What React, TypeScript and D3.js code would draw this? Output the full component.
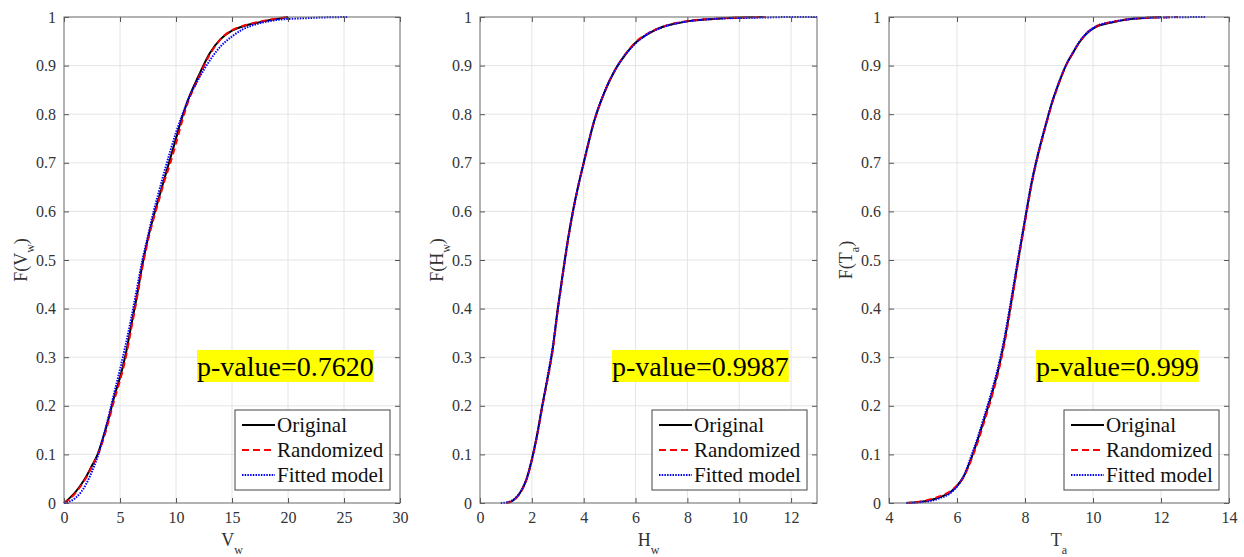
import React, { useEffect, useRef } from 'react';
import * as d3 from 'd3';

// ---------- shared ticks ----------
const yTicks = [0, 0.1, 0.2, 0.3, 0.4, 0.5, 0.6, 0.7, 0.8, 0.9, 1];
const vwTicks = [0, 5, 10, 15, 20, 25, 30];
const hwTicks = [0, 2, 4, 6, 8, 10, 12];
const taTicks = [4, 6, 8, 10, 12, 14];
const legendLabels = ['Original', 'Randomized', 'Fitted model'];

// ---------- panel 1 : V_w ----------
const vwX = [0, 0.5, 1, 1.5, 2, 2.5, 3, 3.5, 4, 4.5, 5, 5.5, 6, 6.5, 7, 7.5, 8, 8.5, 9, 9.5, 10, 10.5, 11, 12, 13, 14, 15, 16, 17, 18, 19, 20, 21, 22, 23, 24, 25.3];
const vwOriginal = [0, 0.01, 0.022, 0.037, 0.055, 0.077, 0.1, 0.135, 0.175, 0.22, 0.258, 0.305, 0.365, 0.425, 0.49, 0.545, 0.59, 0.63, 0.67, 0.71, 0.75, 0.79, 0.825, 0.878, 0.925, 0.955, 0.972, 0.981, 0.987, 0.992, 0.996, 1, null, null, null, null, null];
const vwRandomized = [0, 0.008, 0.02, 0.035, 0.053, 0.075, 0.098, 0.13, 0.17, 0.213, 0.252, 0.298, 0.358, 0.42, 0.485, 0.54, 0.585, 0.625, 0.665, 0.7, 0.74, 0.782, 0.82, 0.874, 0.922, 0.955, 0.973, 0.982, 0.988, 0.993, 0.997, 1, null, null, null, null, null];
const vwFitted = [0, 0.003, 0.01, 0.022, 0.04, 0.065, 0.095, 0.135, 0.18, 0.228, 0.275, 0.325, 0.38, 0.44, 0.5, 0.55, 0.6, 0.643, 0.685, 0.725, 0.762, 0.795, 0.825, 0.872, 0.91, 0.94, 0.96, 0.975, 0.984, 0.99, 0.994, 0.996, 0.997, 0.998, 0.999, 0.9995, 1];

// ---------- panel 2 : H_w ----------
const hwX = [0.8, 1.0, 1.2, 1.4, 1.6, 1.8, 2.0, 2.2, 2.4, 2.6, 2.8, 3.0, 3.2, 3.4, 3.6, 3.8, 4.0, 4.4, 4.8, 5.2, 5.6, 6.0, 6.5, 7, 7.5, 8, 9, 10, 11, 12, 13];
const hwOriginal = [null, 0, 0.003, 0.011, 0.026, 0.05, 0.09, 0.14, 0.2, 0.255, 0.315, 0.4, 0.475, 0.545, 0.605, 0.655, 0.7, 0.785, 0.845, 0.89, 0.922, 0.947, 0.966, 0.979, 0.986, 0.991, 0.996, 0.999, 1, null, null];
const hwRandomized = [null, 0, 0.003, 0.01, 0.025, 0.049, 0.088, 0.138, 0.197, 0.252, 0.312, 0.396, 0.472, 0.542, 0.603, 0.654, 0.699, 0.784, 0.845, 0.89, 0.923, 0.948, 0.967, 0.979, 0.987, 0.992, 0.996, 0.999, 1, null, null];
const hwFitted = [0, 0.001, 0.004, 0.012, 0.026, 0.05, 0.088, 0.138, 0.198, 0.258, 0.32, 0.398, 0.472, 0.543, 0.603, 0.655, 0.7, 0.786, 0.846, 0.89, 0.922, 0.946, 0.966, 0.978, 0.986, 0.991, 0.996, 0.998, 0.999, 1, 1];

// ---------- panel 3 : T_a ----------
const taX = [4.5, 5.0, 5.5, 5.8, 6.0, 6.2, 6.4, 6.6, 6.8, 7.0, 7.2, 7.4, 7.6, 7.8, 8.0, 8.2, 8.4, 8.6, 8.8, 9.0, 9.2, 9.4, 9.6, 9.8, 10.0, 10.2, 10.5, 11, 11.5, 12, 12.5, 13.3];
const taOriginal = [0, 0.003, 0.012, 0.022, 0.035, 0.055, 0.088, 0.128, 0.172, 0.218, 0.27, 0.335, 0.415, 0.5, 0.582, 0.66, 0.722, 0.775, 0.825, 0.865, 0.9, 0.925, 0.948, 0.965, 0.976, 0.983, 0.988, 0.995, 0.998, 1, null, null];
const taRandomized = [0, 0.004, 0.014, 0.024, 0.036, 0.054, 0.085, 0.123, 0.167, 0.213, 0.265, 0.33, 0.41, 0.497, 0.578, 0.657, 0.72, 0.773, 0.823, 0.864, 0.899, 0.925, 0.948, 0.966, 0.977, 0.984, 0.989, 0.995, 0.998, 0.999, 1, null];
const taFitted = [0, 0.002, 0.01, 0.02, 0.034, 0.056, 0.093, 0.133, 0.178, 0.225, 0.277, 0.342, 0.422, 0.505, 0.585, 0.663, 0.724, 0.777, 0.826, 0.866, 0.9, 0.926, 0.949, 0.966, 0.977, 0.984, 0.989, 0.995, 0.998, 0.999, 0.9995, 1];

const pValues = ['p-value=0.7620', 'p-value=0.9987', 'p-value=0.999'];

type Panel = {
  left: number; right: number; domain: [number, number]; ticks: number[];
  xs: number[]; series: (number | null)[][];
  main: string; sub: string; pText: string; pX: number;
};

const panels: Panel[] = [
  { left: 64, right: 400, domain: [0, 30], ticks: vwTicks, xs: vwX, series: [vwOriginal, vwRandomized, vwFitted], main: 'V', sub: 'w', pText: pValues[0], pX: 197 },
  { left: 480, right: 817, domain: [0, 13], ticks: hwTicks, xs: hwX, series: [hwOriginal, hwRandomized, hwFitted], main: 'H', sub: 'w', pText: pValues[1], pX: 612 },
  { left: 889, right: 1229, domain: [4, 14], ticks: taTicks, xs: taX, series: [taOriginal, taRandomized, taFitted], main: 'T', sub: 'a', pText: pValues[2], pX: 1036 },
];

const TOP = 17;
const BOTTOM = 503;
const FONT = "'Liberation Serif', 'Times New Roman', serif";
const styles = [
  { color: '#000000', dash: null as string | null, width: 2 },
  { color: '#ff0000', dash: '6,4', width: 2 },
  { color: '#0000ff', dash: '1.5,1.2', width: 2 },
];

function drawPanel(svg: d3.Selection<SVGSVGElement, unknown, null, undefined>, p: Panel) {
  const x = d3.scaleLinear().domain(p.domain).range([p.left, p.right]);
  const y = d3.scaleLinear().domain([0, 1]).range([BOTTOM, TOP]);
  const g = svg.append('g');

  // grid
  g.append('g').selectAll('line').data(p.ticks.filter(t => t > p.domain[0] && t < p.domain[1])).enter().append('line')
    .attr('x1', d => x(d)).attr('x2', d => x(d)).attr('y1', TOP).attr('y2', BOTTOM)
    .attr('stroke', '#e4e4e4').attr('stroke-width', 1);
  g.append('g').selectAll('line').data(yTicks.filter(t => t > 0 && t < 1)).enter().append('line')
    .attr('y1', d => y(d)).attr('y2', d => y(d)).attr('x1', p.left).attr('x2', p.right)
    .attr('stroke', '#e4e4e4').attr('stroke-width', 1);

  // axes ticks
  const fmt = (d: d3.NumberValue) => String(d);
  const axB = g.append('g').attr('transform', `translate(0,${BOTTOM})`)
    .call(d3.axisBottom(x).tickValues(p.ticks).tickSizeInner(-5).tickSizeOuter(0).tickPadding(9).tickFormat(fmt));
  const axT = g.append('g').attr('transform', `translate(0,${TOP})`)
    .call(d3.axisTop(x).tickValues(p.ticks).tickSizeInner(-5).tickSizeOuter(0).tickFormat(() => ''));
  const axL = g.append('g').attr('transform', `translate(${p.left},0)`)
    .call(d3.axisLeft(y).tickValues(yTicks).tickSizeInner(-5).tickSizeOuter(0).tickPadding(8).tickFormat(fmt));
  const axR = g.append('g').attr('transform', `translate(${p.right},0)`)
    .call(d3.axisRight(y).tickValues(yTicks).tickSizeInner(-5).tickSizeOuter(0).tickFormat(() => ''));
  [axB, axT, axL, axR].forEach(a => {
    a.select('.domain').remove();
    a.attr('font-family', null).attr('font-size', null);
    a.selectAll('line').attr('stroke', '#555');
    a.selectAll('text').attr('fill', '#333').style('font-family', FONT).style('font-size', '16px');
  });

  // series
  const line = d3.line<[number, number | null]>()
    .defined(d => d[1] !== null)
    .x(d => x(d[0]))
    .y(d => y(d[1] as number))
    .curve(d3.curveMonotoneX);
  p.series.forEach((vals, i) => {
    const pts: [number, number | null][] = p.xs.map((xv, k) => [xv, vals[k]]);
    const path = g.append('path').attr('d', line(pts) || '')
      .attr('fill', 'none').attr('stroke', styles[i].color).attr('stroke-width', styles[i].width)
      .attr('stroke-linejoin', 'round');
    if (styles[i].dash) path.attr('stroke-dasharray', styles[i].dash as string);
  });

  // frame
  g.append('rect').attr('x', p.left).attr('y', TOP).attr('width', p.right - p.left).attr('height', BOTTOM - TOP)
    .attr('fill', 'none').attr('stroke', '#666').attr('stroke-width', 1);

  // axis labels
  const cx = (p.left + p.right) / 2;
  const xl = g.append('text').attr('x', cx).attr('y', 546).attr('text-anchor', 'middle')
    .style('font-family', FONT).style('font-size', '18px').attr('fill', '#333');
  xl.append('tspan').text(p.main);
  xl.append('tspan').style('font-size', '12px').attr('dy', 8).text(p.sub);

  const yl = g.append('text').attr('transform', `translate(${p.left - 37},${(TOP + BOTTOM) / 2}) rotate(-90)`)
    .attr('text-anchor', 'middle').style('font-family', FONT).style('font-size', '18px').attr('fill', '#333');
  yl.append('tspan').text('F(' + p.main);
  yl.append('tspan').style('font-size', '12px').attr('dy', 7).text(p.sub);
  yl.append('tspan').attr('dy', -7).text(')');

  // p-value
  const pg = g.append('g');
  const bg = pg.append('rect').attr('fill', '#ffff00');
  const pt = pg.append('text').attr('x', p.pX).attr('y', 376).style('font-family', FONT)
    .style('font-size', '28px').attr('fill', '#000').text(p.pText);
  const bb = (pt.node() as SVGTextElement).getBBox();
  bg.attr('x', bb.x).attr('y', 350).attr('width', bb.width).attr('height', 32);

  // legend
  const lw = 155, lh = 80;
  const lx = p.right - 10 - lw;
  const ly = 410;
  const lg = g.append('g');
  lg.append('rect').attr('x', lx).attr('y', ly).attr('width', lw).attr('height', lh)
    .attr('fill', '#fff').attr('stroke', '#444').attr('stroke-width', 1);
  legendLabels.forEach((lab, i) => {
    const ry = ly + 15 + i * 25;
    const l = lg.append('line').attr('x1', lx + 7).attr('x2', lx + 40).attr('y1', ry).attr('y2', ry)
      .attr('stroke', styles[i].color).attr('stroke-width', styles[i].width);
    if (styles[i].dash) l.attr('stroke-dasharray', i === 1 ? '7,4' : styles[i].dash as string);
    lg.append('text').attr('x', lx + 42).attr('y', ry + 7).style('font-family', FONT).style('font-size', '21px')
      .attr('fill', '#111').text(lab);
  });
}

export default function App() {
  const ref = useRef<SVGSVGElement>(null);
  useEffect(() => {
    if (!ref.current) return;
    const svg = d3.select(ref.current);
    svg.selectAll('*').remove();
    panels.forEach(p => drawPanel(svg, p));
  }, []);
  return (
    <svg ref={ref} width={1244} height={557}
      style={{ position: 'absolute', left: 0, top: 0, background: '#fff' }} />
  );
}
